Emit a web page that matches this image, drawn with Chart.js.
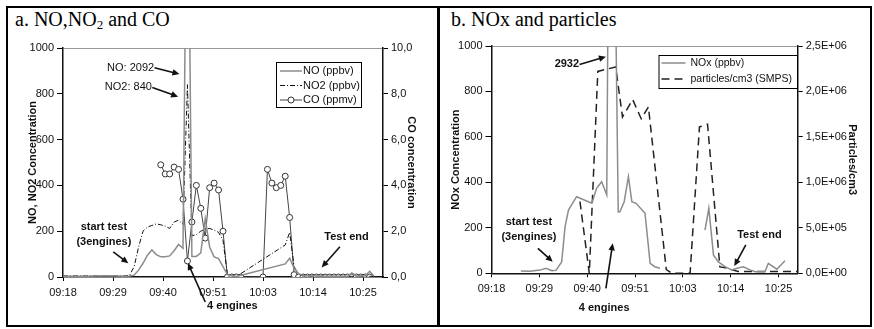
<!DOCTYPE html>
<html>
<head>
<meta charset="utf-8">
<script src="https://cdn.jsdelivr.net/npm/chart.js@4/dist/chart.umd.min.js"></script>
<style>
  body { margin: 0; background: #fff; }
  #frame { position: absolute; left: 6px; top: 6px; width: 862px; height: 317px; border: 2px solid #000; }
  #divider { position: absolute; left: 437px; top: 6px; width: 3px; height: 321px; background: #000; }
  .ptitle { position: absolute; top: 8px; font-family: "Liberation Serif", "Times New Roman", serif; font-size: 20px; line-height: 23px; color: #000; }
  .ptitle sub { font-size: 13px; vertical-align: -3px; line-height: 0; }
  canvas { position: absolute; }
</style>
</head>
<body>
<div id="frame"></div>
<div id="divider"></div>
<div class="ptitle" style="left:15px">a. NO,NO<sub>2</sub> and CO</div>
<div class="ptitle" style="left:451px">b. NOx and particles</div>
<canvas id="chartA" width="428" height="318" style="left:8px;top:8px"></canvas>
<canvas id="chartB" width="431" height="318" style="left:440px;top:8px"></canvas>
<script>
// time axis: minutes after 09:18
const xTickMinutes = [0, 11.25, 22.5, 33.75, 45, 56.25, 67.5];
const xTickLabels = ['09:18', '09:29', '09:40', '09:51', '10:03', '10:14', '10:25'];

// a. NO, NO2 (ppbv) and CO (ppmv)
const noTimes = [0, 5, 10, 14, 15, 16, 17, 18, 19, 20, 21, 22, 23, 24, 25, 26, 27, 28, 29, 30, 31, 32, 33, 34, 35, 36, 37, 38, 39, 50, 51, 52, 53, 54, 60, 64, 65, 66, 68, 69, 70];
const noPpbv = [3, 3, 5, 3, 4, 8, 30, 60, 95, 118, 98, 88, 88, 92, 115, 142, 125, 2092, 90, 90, 105, 255, 130, 88, 80, 45, 10, 4, 2, 57, 82, 38, 15, 5, 3, 3, 18, 4, 5, 25, 3];
const no2Ppbv = [5, 5, 5, 5, 8, 45, 130, 200, 218, 225, 232, 228, 222, 212, 240, 248, 230, 840, 180, 185, 200, 210, 212, 205, 195, 160, 10, 4, 2, 140, 195, 45, 12, 4, 3, 3, 3, 3, 3, 3, 3];
const coTimes = [22, 23, 24, 25, 26, 27, 28, 29, 30, 31, 32, 33, 34, 35, 36, 37, 38, 39, 40,
  45, 46, 47, 48, 49, 50, 51, 52, 53, 54, 55, 56, 57, 58, 59, 60, 61, 62, 63, 64, 65, 66, 67, 68, 69];
const coPpmv = [4.9, 4.5, 4.5, 4.8, 4.7, 3.4, 0.7, 2.4, 4.0, 3.0, 1.7, 3.9, 4.1, 3.8, 2.0, 0, 0, 0, 0,
  0, 4.7, 4.1, 3.9, 4.0, 4.4, 2.6, 0.1, 0, 0, 0, 0, 0, 0, 0, 0, 0, 0, 0, 0, 0, 0, 0, 0, 0];

// b. NOx (ppbv) and particles/cm3 (SMPS)
const noxTimes = [6.9, 9, 11.4, 12.8, 14.2, 15.2, 16.5, 17.3, 18.1, 20.0, 23.6, 24.7, 25.9, 27.1, 28, 29.8, 30.2, 31.2, 32.2, 33, 34, 36.1, 37.3, 38.4, 39.6,
  45, 50.2, 51.1, 52.2, 53.3, 54.9, 56.5, 57.7, 59.2, 60.8, 62, 64.3, 65.1, 67.1, 69];
const noxPpbv = [10, 9, 14, 22, 11, 14, 50, 205, 278, 337, 308, 374, 403, 345, 2932, 270, 271, 315, 425, 315, 308, 264, 44, 29, 22,
  null, 190, 286, 80, 51, 29, 15, 22, 29, 15, 7, 7, 44, 18, 55];
const particleTimes = [20.8, 23.0, 25.0, 29.2, 30.8, 33.2, 35.2, 36.9, 41.1, 42.4, 46.7, 48.9, 50.8, 53.7, 55, 58, 72];
const particlesPerCm3 = [0.79e6, 0.0, 2.22e6, 2.27e6, 1.72e6, 1.91e6, 1.70e6, 1.83e6, 0.04e6, 0.0, 0.0, 1.61e6, 1.64e6, 0.07e6, 0.06e6, 0.02e6, 0.02e6];

const pts = (ts, vs) => ts.map((t, i) => ({ x: t, y: vs[i] }));

Chart.defaults.font.family = '"Liberation Sans", Arial, sans-serif';
Chart.defaults.font.size = 11;
Chart.defaults.color = '#111';

function drawArrow(ctx, x1, y1, x2, y2) {
  const a = Math.atan2(y2 - y1, x2 - x1);
  const hl = 7, hw = 3.2;
  ctx.lineWidth = 1.6;
  ctx.beginPath();
  ctx.moveTo(x1, y1);
  ctx.lineTo(x2 - Math.cos(a) * hl * 0.8, y2 - Math.sin(a) * hl * 0.8);
  ctx.stroke();
  ctx.beginPath();
  ctx.moveTo(x2, y2);
  ctx.lineTo(x2 - Math.cos(a) * hl - Math.sin(a) * hw, y2 - Math.sin(a) * hl + Math.cos(a) * hw);
  ctx.lineTo(x2 - Math.cos(a) * hl + Math.sin(a) * hw, y2 - Math.sin(a) * hl - Math.cos(a) * hw);
  ctx.closePath();
  ctx.fill();
}

// text + arrows placed in data coordinates
function makeNotes(items) {
  return {
    id: 'notes',
    afterDatasetsDraw(chart) {
      const { ctx } = chart;
      const x = chart.scales.x, y = chart.scales.y;
      ctx.save();
      ctx.fillStyle = '#111';
      ctx.strokeStyle = '#111';
      ctx.textBaseline = 'middle';
      items.forEach(n => {
        ctx.font = n.font;
        ctx.textAlign = n.align || 'center';
        n.lines.forEach((s, i) => ctx.fillText(s, x.getPixelForValue(n.t), y.getPixelForValue(n.v) + i * 15));
        if (n.arrow) {
          drawArrow(ctx, x.getPixelForValue(n.arrow[0]), y.getPixelForValue(n.arrow[1]),
            x.getPixelForValue(n.arrow[2]), y.getPixelForValue(n.arrow[3]));
        }
      });
      ctx.restore();
    }
  };
}

// boxed legend inside the plot area
function makeLegend(box) {
  return {
    id: 'boxLegend',
    afterDraw(chart) {
      const { ctx, chartArea } = chart;
      const bx = chartArea.left + box.dx, by = chartArea.top + box.dy;
      ctx.save();
      ctx.fillStyle = '#fff';
      ctx.fillRect(bx, by, box.w, box.h);
      ctx.strokeStyle = '#000';
      ctx.lineWidth = 1;
      ctx.strokeRect(bx + 0.5, by + 0.5, box.w, box.h);
      ctx.font = box.font;
      ctx.textBaseline = 'middle';
      chart.data.datasets.forEach((ds, i) => {
        const ly = by + box.rows[i];
        ctx.strokeStyle = ds.borderColor;
        ctx.lineWidth = ds.borderWidth;
        ctx.setLineDash(ds.borderDash || []);
        ctx.beginPath();
        ctx.moveTo(bx + box.x0, ly);
        ctx.lineTo(bx + box.x1, ly);
        ctx.stroke();
        ctx.setLineDash([]);
        if (ds.pointRadius) {
          ctx.fillStyle = '#fff';
          ctx.strokeStyle = ds.pointBorderColor;
          ctx.lineWidth = 1;
          ctx.beginPath();
          ctx.arc(bx + (box.x0 + box.x1) / 2, ly, ds.pointRadius, 0, Math.PI * 2);
          ctx.fill();
          ctx.stroke();
        }
        ctx.fillStyle = '#111';
        ctx.fillText(ds.label, bx + box.tx, ly);
      });
      ctx.restore();
    }
  };
}

function timeAxis(height) {
  return {
    type: 'linear', min: 0, max: 72,
    afterBuildTicks: s => { s.ticks = xTickMinutes.map(v => ({ value: v })); },
    afterFit: s => { s.height = height; },
    ticks: { autoSkip: false, maxRotation: 0, padding: 5, callback: (v, i) => xTickLabels[i] },
    grid: { drawOnChartArea: false, tickLength: 4, color: '#000' },
    border: { color: '#111', width: 1.5 }
  };
}

function leftAxis(width, title, max) {
  return {
    position: 'left', min: 0, max: max,
    afterFit: s => { s.width = width; },
    ticks: { stepSize: 200, padding: 3, callback: v => String(v) },
    grid: {
      color: c => (c.tick && c.tick.value === max ? '#999' : 'rgba(0,0,0,0)'),
      tickColor: '#000', tickLength: 6
    },
    border: { color: '#111', width: 1.5 },
    title: { display: true, text: title, font: { weight: 'bold', size: 11 }, padding: { top: 4, bottom: 0 } }
  };
}

function rightAxis(width, title, max, step, fmt) {
  return {
    position: 'right', min: 0, max: max,
    afterFit: s => { s.width = width; },
    ticks: { stepSize: step, padding: 3, callback: fmt },
    grid: { drawOnChartArea: false, tickLength: 5, color: '#000' },
    border: { color: '#111', width: 1.5 },
    title: { display: true, text: title, font: { weight: 'bold', size: 11 }, padding: { top: 4, bottom: 0 } }
  };
}

const sci = v => {
  const [m, e] = v.toExponential(1).split('e');
  return m.replace('.', ',') + 'E' + (e[0] === '-' ? '-' : '+') + String(Math.abs(+e)).padStart(2, '0');
};

const boldFont = 'bold 11px "Liberation Sans", Arial, sans-serif';
const plainFont = '11px "Liberation Sans", Arial, sans-serif';

new Chart(document.getElementById('chartA'), {
  type: 'line',
  data: {
    datasets: [
      { label: 'NO (ppbv)', data: pts(noTimes, noPpbv), borderColor: '#8c8c8c', borderWidth: 1.5, pointRadius: 0, yAxisID: 'y' },
      { label: 'NO2 (ppbv)', data: pts(noTimes, no2Ppbv), borderColor: '#111', borderWidth: 1, borderDash: [5, 2, 1, 2], pointRadius: 0, yAxisID: 'y' },
      { label: 'CO (ppmv)', data: pts(coTimes, coPpmv), borderColor: '#444', borderWidth: 1, pointRadius: 3,
        pointBackgroundColor: '#fff', pointBorderColor: '#333', pointBorderWidth: 1, yAxisID: 'y2' }
    ]
  },
  options: {
    responsive: false, animation: false, devicePixelRatio: 1,
    layout: { padding: { left: 14, right: 14, top: 40, bottom: 0 } },
    plugins: { legend: { display: false }, tooltip: { enabled: false } },
    scales: {
      x: timeAxis(49),
      y: leftAxis(41, 'NO, NO2 Concentration', 1000),
      y2: rightAxis(39, 'CO concentration', 10, 2, v => v.toFixed(1).replace('.', ','))
    }
  },
  plugins: [
    makeNotes([
      { lines: ['NO: 2092'], t: 20.5, v: 914, font: plainFont, align: 'right', arrow: [20.6, 914, 26.2, 886] },
      { lines: ['NO2: 840'], t: 20.0, v: 828, font: plainFont, align: 'right', arrow: [20.1, 828, 25.9, 787] },
      { lines: ['start test', '(3engines)'], t: 9.2, v: 220, font: boldFont, arrow: [11.3, 110, 14.7, 60] },
      { lines: ['4 engines'], t: 38.1, v: -125, font: boldFont, arrow: [32.0, -109, 28.1, 61] },
      { lines: ['Test end'], t: 63.8, v: 176, font: boldFont, arrow: [62.3, 132, 58.2, 42] }
    ]),
    makeLegend({ dx: 213, dy: 14, w: 85, h: 45, rows: [9, 23.5, 38], x0: 4, x1: 26, tx: 27, font: plainFont })
  ]
});

new Chart(document.getElementById('chartB'), {
  type: 'line',
  data: {
    datasets: [
      { label: 'NOx (ppbv)', data: pts(noxTimes, noxPpbv), borderColor: '#8c8c8c', borderWidth: 1.5, pointRadius: 0, yAxisID: 'y' },
      { label: 'particles/cm3 (SMPS)', data: pts(particleTimes, particlesPerCm3), borderColor: '#222', borderWidth: 1.5,
        borderDash: [8, 5], pointRadius: 0, yAxisID: 'y2' }
    ]
  },
  options: {
    responsive: false, animation: false, devicePixelRatio: 1,
    layout: { padding: { left: 5, right: 8, top: 38, bottom: 0 } },
    plugins: { legend: { display: false }, tooltip: { enabled: false } },
    scales: {
      x: timeAxis(52.7),
      y: leftAxis(46.5, 'NOx Concentration', 1000),
      y2: rightAxis(65.3, 'Particles/cm3', 2.5e6, 5e5, sci)
    }
  },
  plugins: [
    makeNotes([
      { lines: ['2932'], t: 20.6, v: 919, font: boldFont, align: 'right', arrow: [20.7, 919, 26.9, 953] },
      { lines: ['start test', '(3engines)'], t: 8.8, v: 227, font: boldFont, arrow: [10.9, 110, 14.4, 51] },
      { lines: ['4 engines'], t: 26.5, v: -154, font: boldFont, arrow: [26.9, -66, 28.5, 132] },
      { lines: ['Test end'], t: 63.0, v: 168, font: boldFont, arrow: [59.8, 125, 57.1, 32] }
    ]),
    makeLegend({ dx: 167, dy: 9, w: 138.5, h: 33, rows: [8, 24], x0: 3, x1: 27, tx: 32, font: '10.5px "Liberation Sans", Arial, sans-serif' })
  ]
});
</script>
</body>
</html>
